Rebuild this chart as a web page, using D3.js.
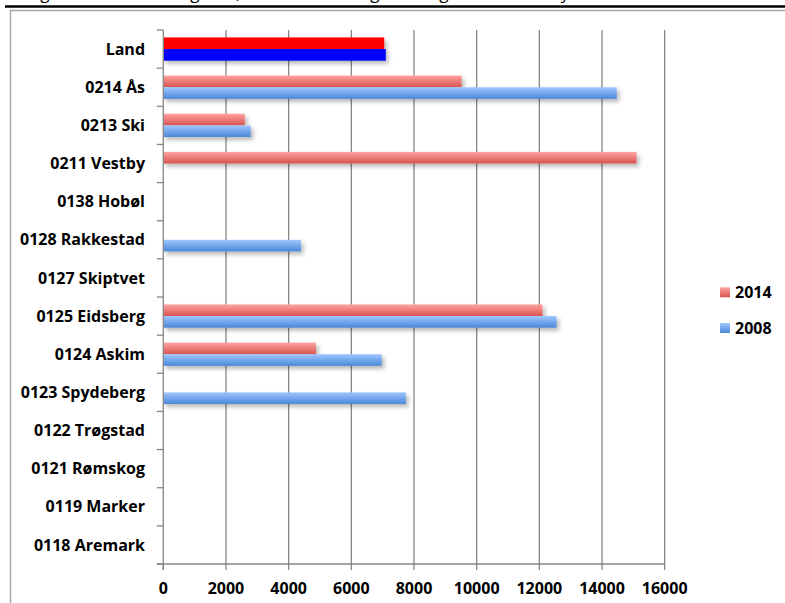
<!DOCTYPE html>
<html>
<head>
<meta charset="utf-8">
<script src="https://cdn.jsdelivr.net/npm/d3@7"></script>
<style>
  html, body { margin: 0; padding: 0; background: #fff; }
  svg { display: block; }
  text { font-family: "Open Sans", "DejaVu Sans", sans-serif; }
</style>
</head>
<body>
<svg id="chart" width="785" height="603"></svg>
<script>
// Municipalities, top to bottom
const categories = [
  "Land", "0214 Ås", "0213 Ski", "0211 Vestby", "0138 Hobøl", "0128 Rakkestad",
  "0127 Skiptvet", "0125 Eidsberg", "0124 Askim", "0123 Spydeberg",
  "0122 Trøgstad", "0121 Rømskog", "0119 Marker", "0118 Aremark"
];
const seriesNames = ["2014", "2008"];
const values2014 = [7050, 9520, 2600, 15100, 0, 0, 0, 12100, 4870, 0, 0, 0, 0, 0];
const values2008 = [7100, 14470, 2790, 0, 0, 4390, 0, 12550, 6970, 7740, 0, 0, 0, 0];
const xTickValues = [0, 2000, 4000, 6000, 8000, 10000, 12000, 14000, 16000];

// Heading line (only its lower edge sits inside the frame)
const titleParts = [
  { text: "Utgifter til", mark: "g", at: 45 },
  { text: "ungdom, kroner for hver", mark: "g", at: 195 },
  { text: "regionen og landet", mark: "g", at: 375 },
  { text: "byene i tall fra 2008 til 2014", mark: "y", at: 565 }
];

const svg = d3.select("#chart");
const plot = { left: 163.3, right: 664.7, top: 30, bottom: 564 };

const x = d3.scaleLinear().domain([0, 16000]).range([plot.left, plot.right]);
const y = d3.scaleBand().domain(categories).range([plot.top, plot.bottom])
  .paddingInner(0.39).paddingOuter(0.195);
const ySub = d3.scaleBand().domain(seriesNames).range([0, y.bandwidth()]);

const defs = svg.append("defs");
function vGrad(id, top, bottom) {
  const g = defs.append("linearGradient").attr("id", id)
    .attr("x1", 0).attr("y1", 0).attr("x2", 0).attr("y2", 1);
  g.append("stop").attr("offset", "0%").attr("stop-color", top);
  g.append("stop").attr("offset", "100%").attr("stop-color", bottom);
}
vGrad("grad2014", "#ffa3a1", "#d9534f");
vGrad("grad2008", "#9fc6ff", "#4a88d8");
const shadow = defs.append("filter").attr("id", "shadow")
  .attr("x", "-10%").attr("y", "-50%").attr("width", "130%").attr("height", "250%");
shadow.append("feDropShadow").attr("dx", 2.5).attr("dy", 3).attr("stdDeviation", 2)
  .attr("flood-color", "#000").attr("flood-opacity", 0.28);

// Frame around the chart
svg.append("line").attr("x1", 5).attr("x2", 785).attr("y1", 6.5).attr("y2", 6.5)
  .attr("stroke", "#000").attr("stroke-width", 2.6);
svg.append("line").attr("x1", 10).attr("x2", 785).attr("y1", 10.5).attr("y2", 10.5)
  .attr("stroke", "#a6a6a6").attr("stroke-width", 1.4);
svg.append("line").attr("x1", 10.5).attr("x2", 10.5).attr("y1", 10).attr("y2", 603)
  .attr("stroke", "#a6a6a6").attr("stroke-width", 1.4);

// Heading text, clipped by the top of the page
const titleG = svg.append("g");
titleParts.forEach(p => {
  const t = titleG.append("text").attr("y", -1).attr("font-size", 17)
    .attr("fill", "#000").text(p.text);
  const idx = p.text.indexOf(p.mark);
  const before = idx > 0 ? t.node().getSubStringLength(0, idx) : 0;
  const w = t.node().getSubStringLength(idx, 1);
  t.attr("x", p.at - before - w / 2);
});

// Vertical gridlines
svg.append("g").selectAll("line").data(xTickValues.slice(1)).join("line")
  .attr("x1", d => x(d)).attr("x2", d => x(d))
  .attr("y1", plot.top).attr("y2", plot.bottom)
  .attr("stroke", "#868686").attr("stroke-width", 1.3);

// Bars
const rows = categories.map((c, i) => ({ cat: c, v: [values2014[i], values2008[i]] }));
const barG = svg.append("g").attr("filter", "url(#shadow)");
rows.forEach(r => {
  seriesNames.forEach((s, j) => {
    const isLand = r.cat === "Land";
    const fill = isLand ? (j === 0 ? "#ff0000" : "#0000ff") : `url(#grad${s})`;
    barG.append("rect")
      .attr("x", x(0))
      .attr("y", y(r.cat) + ySub(s))
      .attr("width", x(r.v[j]) - x(0))
      .attr("height", ySub.bandwidth())
      .attr("fill", fill);
  });
});

// Y axis
const yAxis = svg.append("g");
yAxis.append("line").attr("x1", plot.left).attr("x2", plot.left)
  .attr("y1", plot.top).attr("y2", plot.bottom + 6)
  .attr("stroke", "#868686").attr("stroke-width", 1.3);
const bounds = categories.map(c => y(c) - y.step() * y.paddingInner() / 2).concat([plot.bottom]);
yAxis.selectAll("line.tick").data(bounds).join("line").attr("class", "tick")
  .attr("x1", plot.left - 6.5).attr("x2", plot.left)
  .attr("y1", d => d).attr("y2", d => d)
  .attr("stroke", "#868686").attr("stroke-width", 1.3);
yAxis.selectAll("text").data(categories).join("text")
  .attr("x", 145).attr("y", d => y(d) + y.bandwidth() / 2)
  .attr("dy", "0.35em").attr("text-anchor", "end")
  .attr("font-size", 16).attr("font-weight", "bold").attr("fill", "#000")
  .text(d => d);

// X axis
const xAxis = svg.append("g");
xAxis.append("line").attr("x1", plot.left - 6.5).attr("x2", plot.right)
  .attr("y1", plot.bottom).attr("y2", plot.bottom)
  .attr("stroke", "#868686").attr("stroke-width", 1.3);
xAxis.selectAll("line.tick").data(xTickValues).join("line").attr("class", "tick")
  .attr("x1", d => x(d)).attr("x2", d => x(d))
  .attr("y1", plot.bottom).attr("y2", plot.bottom + 6)
  .attr("stroke", "#868686").attr("stroke-width", 1.3);
xAxis.selectAll("text").data(xTickValues).join("text")
  .attr("x", d => x(d)).attr("y", 593.5).attr("text-anchor", "middle")
  .attr("font-size", 16).attr("font-weight", "bold").attr("fill", "#000")
  .text(d => d);

// Legend
const legend = svg.append("g");
seriesNames.forEach((s, i) => {
  const ly = 292.3 + i * 35.7;
  legend.append("rect").attr("x", 720).attr("y", ly - 5).attr("width", 10).attr("height", 10)
    .attr("fill", `url(#grad${s})`);
  legend.append("text").attr("x", 735).attr("y", ly).attr("dy", "0.35em")
    .attr("font-size", 16).attr("font-weight", "bold").attr("fill", "#000").text(s);
});
</script>
</body>
</html>
